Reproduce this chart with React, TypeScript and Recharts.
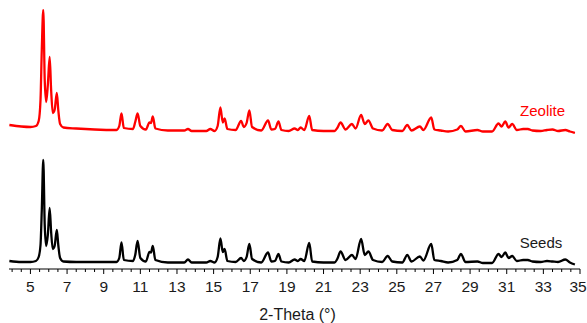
import { Line, LineChart, ReferenceDot, XAxis, YAxis } from 'recharts';

// 2-theta positions (degrees) shared by both patterns
const twoTheta = [
  3.85, 4.5, 5.0, 5.3, 5.45, 5.55, 5.62, 5.7, 5.78, 5.86, 5.95, 6.05, 6.13, 6.22, 6.32, 6.44,
  6.52, 6.62, 6.8, 7.5, 8.5, 9.7, 9.85, 9.97, 10.1, 10.6, 10.72, 10.85, 11.0, 11.3, 11.5,
  11.58, 11.68, 11.82, 12.5, 13.4, 13.6, 13.8, 14.6, 14.82, 15.05, 15.22, 15.37, 15.5, 15.6,
  15.75, 16.2, 16.5, 16.65, 16.8, 16.95, 17.1, 17.6, 17.97, 18.15, 18.35, 18.54, 18.7, 19.1,
  19.42, 19.6, 19.75, 19.95, 20.22, 20.38, 21.0, 21.6, 21.75, 21.93, 22.2, 22.55, 22.75,
  23.05, 23.25, 23.45, 23.7, 24.2, 24.5, 24.75, 25.3, 25.57, 25.8, 26.26, 26.45, 26.88,
  27.05, 27.4, 27.8, 28.3, 28.5, 28.75, 29.4, 29.7, 30.2, 30.55, 30.72, 30.92, 31.1, 31.3,
  31.55, 31.9, 32.15, 32.4, 32.85, 33.2, 33.5, 33.8, 34.2, 34.45, 34.72,
];

// intensity (a.u.)
const seeds = [
  8, 7, 7, 8, 12, 24, 59, 109, 44, 23, 34, 61, 37, 20, 23, 39,
  24, 11, 7.5, 7, 7, 7, 11, 26.5, 9, 8, 14, 28, 11, 7.5, 17,
  16.5, 23, 9, 6.5, 6.5, 9.5, 6.5, 6.5, 8, 6.5, 12, 30.5, 17, 20,
  8, 7, 11, 8, 12, 25, 10, 6.5, 16.5, 7.5, 8, 15, 7.5, 6.5,
  9.5, 8, 10, 8, 26, 7.5, 6.5, 6.5, 10, 17.5, 9, 14, 10,
  30, 14, 17.5, 9, 7, 13, 7.5, 6.5, 14, 7.5, 12.5, 8.5, 25,
  9, 8, 6.5, 9, 15, 7, 7.5, 6, 6, 15, 12, 16.5, 11, 13,
  8, 9, 9, 7.5, 7, 8, 7.5, 7, 9.5, 6.5, 4.5,
];

// intensity (a.u.), drawn shifted up by zeoliteOffset
const zeolite = [
  14, 12.5, 12, 13, 18, 39, 89, 129, 59, 37, 54, 82, 49, 26, 29, 46,
  29, 15, 11.5, 10.5, 9.5, 9, 13, 25.5, 11, 10, 17, 25.5, 13, 9.5, 16.5,
  16, 22.5, 10.5, 8.5, 8.5, 10, 8, 8, 10, 8, 13, 31.5, 16.5, 20.5,
  10, 9, 18, 12, 16, 28.5, 12, 8.5, 18.5, 9.5, 10, 17.5, 9, 8,
  10.5, 9, 11.5, 9, 23, 9, 8, 8, 11, 16.5, 9.5, 15, 10.5,
  24, 15, 18.5, 10.5, 8.5, 15, 9, 8, 14, 8.5, 12.5, 9, 21.5,
  9.5, 8.5, 7.5, 9.5, 13, 7.5, 9, 7.5, 7.5, 15.5, 12.5, 17.5, 11.5, 15,
  9, 10, 10, 8.5, 8, 9, 9.5, 8, 9, 7.5, 6,
];

const zeoliteOffset = 130;

const majorTicks = [5, 7, 9, 11, 13, 15, 17, 19, 21, 23, 25, 27, 29, 31, 33, 35];
const allTicks = Array.from({ length: 63 }, (_, i) => 4 + i * 0.5);

const data = twoTheta.map((t, i) => ({
  t,
  seeds: seeds[i],
  zeolite: zeolite[i] + zeoliteOffset,
}));

const font = '"Liberation Sans", Arial, sans-serif';

function AxisTick(props: any) {
  const { x, y, payload } = props;
  const major = majorTicks.includes(payload.value);
  // keep the last label inside the picture
  const dx = payload.value === 35 ? -2 : 0;
  return (
    <g>
      <line x1={x} x2={x} y1={y - 8} y2={y - 8 + (major ? 5 : 3)} stroke="#000" strokeWidth={1} />
      {major && (
        <text x={x + dx} y={y + 15} textAnchor="middle" fontSize={15.5} fontFamily={font} fill="#1a1a1a">
          {payload.value}
        </text>
      )}
    </g>
  );
}

export default function App() {
  return (
    <div style={{ position: 'absolute', left: 0, top: 0, background: '#fff' }}>
      <LineChart
        width={587}
        height={323}
        data={data}
        margin={{ top: 9, right: 7, bottom: 0, left: 9 }}
      >
        <XAxis
          dataKey="t"
          type="number"
          domain={[3.83, 35]}
          ticks={allTicks}
          interval={0}
          tick={<AxisTick />}
          tickLine={false}
          axisLine={{ stroke: '#000', strokeWidth: 1 }}
          height={54}
          allowDataOverflow
          label={{
            value: '2-Theta (°)',
            position: 'insideBottom',
            offset: 3,
            dx: 3,
            fontSize: 16,
            fontFamily: font,
            fill: '#1a1a1a',
          }}
        />
        <YAxis hide domain={[0, 260]} allowDataOverflow />
        <Line
          type="monotone"
          dataKey="zeolite"
          stroke="#ff0000"
          strokeWidth={2.3}
          strokeLinejoin="round"
          dot={false}
          isAnimationActive={false}
        />
        <Line
          type="monotone"
          dataKey="seeds"
          stroke="#000000"
          strokeWidth={2.3}
          strokeLinejoin="round"
          dot={false}
          isAnimationActive={false}
        />
        <ReferenceDot
          x={32.96}
          y={158.3}
          r={0}
          ifOverflow="visible"
          label={{ value: 'Zeolite', position: 'center', fill: '#ff0000', fontSize: 15, fontFamily: font }}
        />
        <ReferenceDot
          x={32.87}
          y={26.7}
          r={0}
          ifOverflow="visible"
          label={{ value: 'Seeds', position: 'center', fill: '#1a1a1a', fontSize: 15, fontFamily: font }}
        />
      </LineChart>
    </div>
  );
}
